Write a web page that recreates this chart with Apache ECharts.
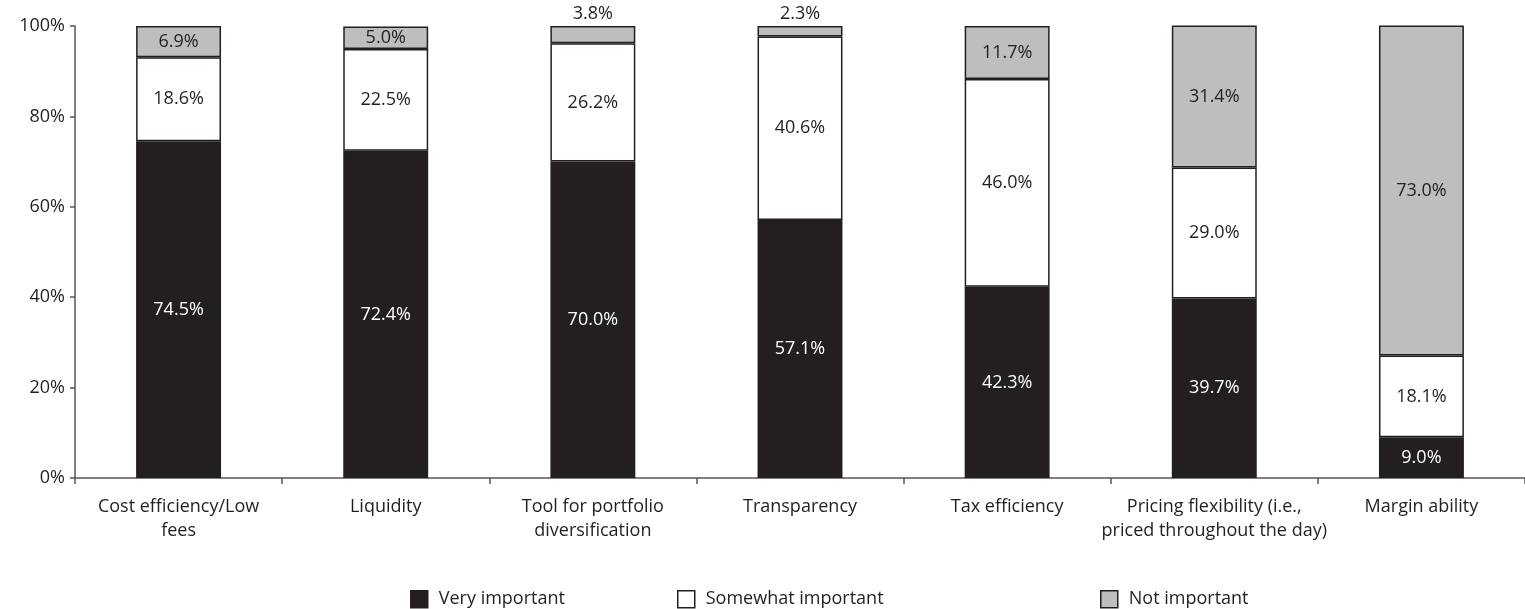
<!DOCTYPE html>
<html>
<head>
<meta charset="utf-8">
<script src="https://cdn.jsdelivr.net/npm/echarts@6/dist/echarts.min.js"></script>
<style>
  html, body { margin: 0; padding: 0; background: #fff; }
  #main { width: 1525px; height: 609px; }
</style>
</head>
<body>
<div id="main"></div>
<script>
const categories = [
  'Cost efficiency/Low\nfees',
  'Liquidity',
  'Tool for portfolio\ndiversification',
  'Transparency',
  'Tax efficiency',
  'Pricing flexibility (i.e.,\npriced throughout the day)',
  'Margin ability'
];
const veryImportant = [74.5, 72.4, 70.0, 57.1, 42.3, 39.7, 9.0];
const somewhatImportant = [18.6, 22.5, 26.2, 40.6, 46.0, 29.0, 18.1];
const notImportant = [6.9, 5.0, 3.8, 2.3, 11.7, 31.4, 73.0];
const yTicks = [0, 20, 40, 60, 80, 100];

const ink = '#231f20';
const font = 'Open Sans';
const fs = 18;

function makeSeries(name, values, fill, textColor) {
  return {
    name: name,
    type: 'bar',
    stack: 'total',
    barWidth: '41%',
    itemStyle: { color: fill, borderColor: ink, borderWidth: 1.5 },
    label: {
      show: true,
      position: 'inside',
      color: textColor,
      fontFamily: font,
      fontSize: fs,
      formatter: p => p.value.toFixed(1) + '%'
    },
    data: values.map(v => {
      // thin slices get their label above the bar
      if (v < 5) {
        return { value: v, label: { position: 'top', distance: 3, color: ink } };
      }
      return v;
    })
  };
}

const chart = echarts.init(document.getElementById('main'));

const legendBase = {
  icon: 'rect',
  itemWidth: 17,
  itemHeight: 17,
  itemGap: 0,
  top: 585,
  textStyle: { fontFamily: font, fontSize: fs, color: ink, padding: [0, 0, 0, 6] },
  selectedMode: false
};

chart.setOption({
  animation: false,
  grid: { left: 75, right: 0, top: 26, bottom: 131 },
  legend: [
    Object.assign({}, legendBase, { left: 405, data: [{ name: 'Very important', itemStyle: { color: ink, borderColor: ink, borderWidth: 1.5 } }] }),
    Object.assign({}, legendBase, { left: 672, data: [{ name: 'Somewhat important', itemStyle: { color: '#ffffff', borderColor: ink, borderWidth: 1.5 } }] }),
    Object.assign({}, legendBase, { left: 1095, data: [{ name: 'Not important', itemStyle: { color: '#bcbec0', borderColor: ink, borderWidth: 1.5 } }] })
  ],
  xAxis: {
    type: 'category',
    data: categories,
    axisLine: { lineStyle: { color: '#555', width: 1.5 } },
    axisTick: { show: true, length: 6, lineStyle: { color: '#555', width: 1.5 } },
    axisLabel: { fontFamily: font, fontSize: fs, color: ink, margin: 17, lineHeight: 24, interval: 0 }
  },
  yAxis: {
    type: 'value',
    min: yTicks[0],
    max: yTicks[yTicks.length - 1],
    interval: 20,
    splitLine: { show: false },
    axisLine: { show: true, lineStyle: { color: '#555', width: 1.5 } },
    axisTick: { show: true, length: 5, lineStyle: { color: '#555', width: 1.5 } },
    axisLabel: { fontFamily: font, fontSize: fs, color: ink, margin: 10, formatter: '{value}%' }
  },
  series: [
    makeSeries('Very important', veryImportant, ink, '#ffffff'),
    makeSeries('Somewhat important', somewhatImportant, '#ffffff', ink),
    makeSeries('Not important', notImportant, '#bcbec0', ink)
  ]
});
</script>
</body>
</html>
